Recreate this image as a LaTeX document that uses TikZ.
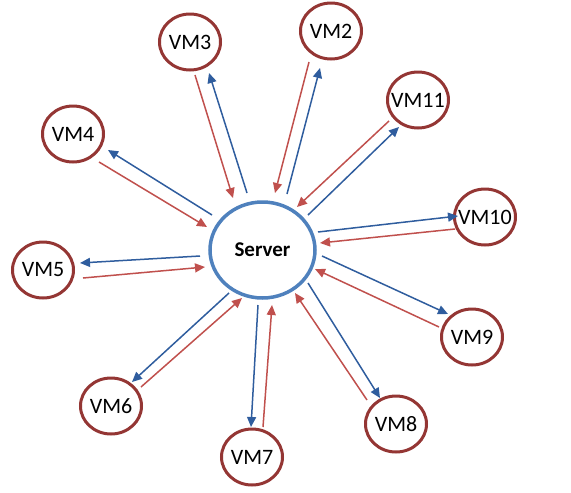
\documentclass[tikz,border=0pt]{standalone}
\usepackage{fontspec}
\setmainfont{Carlito}
\usetikzlibrary{shapes.geometric,arrows.meta}
\definecolor{vmred}{HTML}{943634}
\definecolor{arrred}{HTML}{C0504D}
\definecolor{arrblue}{HTML}{2F5D9E}
\definecolor{srvblue}{HTML}{4F81BD}
\tikzset{
  vm/.style={ellipse,draw=vmred,line width=3pt,fill=white,minimum width=61pt,minimum height=56pt,inner xsep=-16pt,inner ysep=0pt,font=\fontsize{22pt}{22pt}\selectfont},
  srv/.style={ellipse,draw=srvblue,line width=3.5pt,fill=white,minimum width=105pt,minimum height=96pt,inner sep=0pt,font=\bfseries\fontsize{21pt}{21pt}\selectfont},
  toserver/.style={draw=arrred,line width=1.5pt,-{Triangle[length=10pt,width=9pt]}},
  tovm/.style={draw=arrblue,line width=1.5pt,-{Triangle[length=10pt,width=9pt]}},
}
\begin{document}
\begin{tikzpicture}[x=1pt,y=-1pt]
\useasboundingbox (0,0) rectangle (571,493);
\node[srv] (server) at (262.5,250) {Server};
\node[vm] (vm3) at (190,42) {VM3};
\node[vm] (vm2) at (331,31) {VM2};
\node[vm] (vm11) at (418,100) {VM11};
\node[vm] (vm4) at (73,134) {VM4};
\node[vm] (vm10) at (485,217) {VM10};
\node[vm] (vm5) at (43,270) {VM5};
\node[vm] (vm9) at (472,337) {VM9};
\node[vm] (vm6) at (111,406) {VM6};
\node[vm] (vm8) at (396,424) {VM8};
\node[vm] (vm7) at (252,457) {VM7};
% arrow end coordinates
\coordinate (r3a) at (195,75);  \coordinate (r3b) at (233,198);
\coordinate (b3a) at (247,193); \coordinate (b3b) at (209,73);
\coordinate (r2a) at (309,62);  \coordinate (r2b) at (275,193);
\coordinate (b2a) at (287,194); \coordinate (b2b) at (320,68);
\coordinate (r11a) at (389,121); \coordinate (r11b) at (297,207);
\coordinate (b11a) at (308,215); \coordinate (b11b) at (399,127);
\coordinate (r4a) at (99,162);  \coordinate (r4b) at (207,227);
\coordinate (b4a) at (212,215); \coordinate (b4b) at (108,150);
\coordinate (b10a) at (318,232); \coordinate (b10b) at (458,216);
\coordinate (r10a) at (455,229); \coordinate (r10b) at (320,243);
\coordinate (b5a) at (200,256); \coordinate (b5b) at (80,263);
\coordinate (r5a) at (83,278);  \coordinate (r5b) at (205,267);
\coordinate (b9a) at (322,256); \coordinate (b9b) at (448,314);
\coordinate (r9a) at (439,327); \coordinate (r9b) at (315,269);
\coordinate (b6a) at (229,293); \coordinate (b6b) at (132,382);
\coordinate (r6a) at (141,387); \coordinate (r6b) at (242,298);
\coordinate (b7a) at (258,305); \coordinate (b7b) at (251,427);
\coordinate (r7a) at (263,427); \coordinate (r7b) at (272,305);
\coordinate (b8a) at (308,283); \coordinate (b8b) at (380,398);
\coordinate (r8a) at (367,400); \coordinate (r8b) at (295,293);
\foreach \n in {3,2,11,4,10,5,9,6,7,8}{
  \draw[toserver] (r\n a) -- (r\n b);
  \draw[tovm] (b\n a) -- (b\n b);
}
\end{tikzpicture}
\end{document}
